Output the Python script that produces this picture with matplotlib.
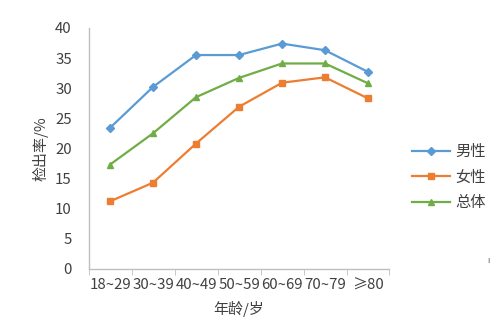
import matplotlib
matplotlib.use('Agg')
import matplotlib.pyplot as plt
import numpy as np

plt.rcParams['font.family'] = ['Noto Sans CJK SC', 'DejaVu Sans']

age_groups = ['18~29', '30~39', '40~49', '50~59', '60~69', '70~79', '≥80']
male = [23.4, 30.2, 35.5, 35.5, 37.4, 36.3, 32.7]
female = [11.2, 14.3, 20.8, 26.9, 30.9, 31.8, 28.3]
total = [17.3, 22.5, 28.5, 31.7, 34.1, 34.1, 30.8]
yticks = [0, 5, 10, 15, 20, 25, 30, 35, 40]

text_col = '#404040'
axis_col = '#BFBFBF'

fig = plt.figure(figsize=(5, 3.25), dpi=100)
ax = fig.add_axes([0.177, 0.173, 0.602, 0.741])

x = np.arange(len(age_groups))
ax.plot(x, male, color='#5B9BD5', lw=1.6, marker='D', ms=4, label='男性')
ax.plot(x, female, color='#ED7D31', lw=1.6, marker='s', ms=5, label='女性')
ax.plot(x, total, color='#70AD47', lw=1.6, marker='^', ms=5, label='总体')

ax.set_xlim(-0.5, len(age_groups) - 0.5)
ax.set_ylim(0, 40)
ax.set_yticks(yticks)
ax.set_xticks(x)
ax.set_xticklabels(age_groups)
ax.set_xticks(np.arange(-0.5, len(age_groups), 1), minor=True)
ax.tick_params(axis='x', which='major', length=0, pad=7, labelsize=10.8, colors=text_col)
ax.tick_params(axis='x', which='minor', length=4, color=axis_col, direction='out')
ax.tick_params(axis='y', length=0, pad=12, labelsize=10.8, colors=text_col)

for s in ['top', 'right']:
    ax.spines[s].set_visible(False)
for s in ['left', 'bottom']:
    ax.spines[s].set_color(axis_col)
    ax.spines[s].set_linewidth(1.0)

ax.set_ylabel('检出率/%', fontsize=10.8, color=text_col, labelpad=5)
ax.set_xlabel('年龄/岁', fontsize=10.8, color=text_col, labelpad=6)

leg = ax.legend(loc='center left', bbox_to_anchor=(1.03, 0.38), frameon=False,
                fontsize=11, handlelength=2.5, handletextpad=0.3,
                labelspacing=0.55, labelcolor=text_col)

fig.text(0.975, 0.19, 'ı', fontsize=6, color='#606060')

plt.savefig('out.png', dpi=100)
